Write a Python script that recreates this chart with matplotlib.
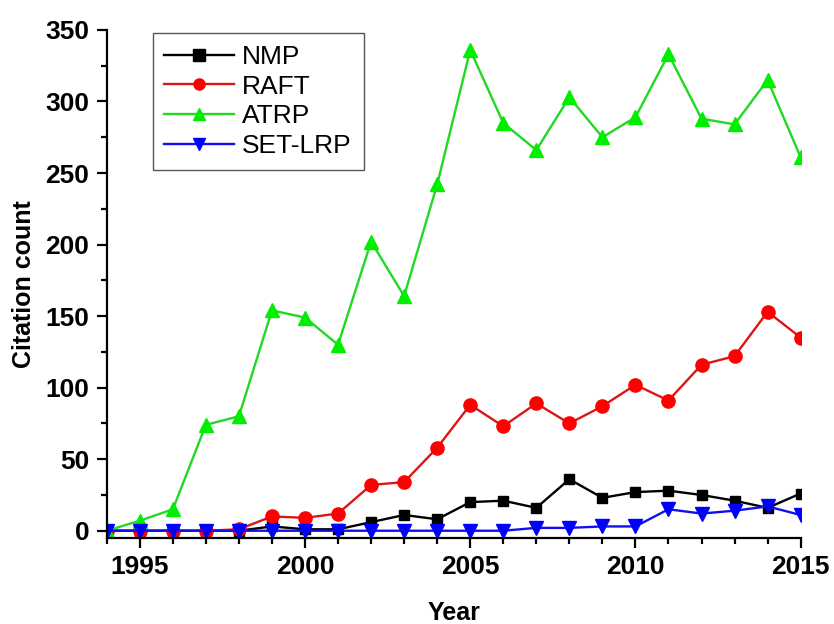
import matplotlib
matplotlib.use('Agg')
import matplotlib.pyplot as plt
from matplotlib.ticker import MultipleLocator

plt.rcParams['font.family'] = ['Liberation Sans', 'DejaVu Sans']

years = list(range(1994, 2016))
nmp = [0, 0, 0, 0, 0, 3, 1, 1, 6, 11, 8, 20, 21, 16, 36, 23, 27, 28, 25, 21, 16, 26]
raft = [0, 0, 0, 0, 1, 10, 9, 12, 32, 34, 58, 88, 73, 89, 75, 87, 102, 91, 116, 122, 153, 135]
atrp = [0, 7, 15, 74, 80, 154, 149, 130, 202, 164, 242, 336, 285, 266, 303, 275, 289, 333, 288, 284, 315, 261]
setlrp = [0, 0, 0, 0, 0, 0, 0, 0, 0, 0, 0, 0, 0, 2, 2, 3, 3, 15, 12, 14, 17, 11]

fig = plt.figure(figsize=(8.34, 6.24), dpi=100)
ax = fig.add_axes([0.128, 0.138, 0.832, 0.814])

ax.plot(years, nmp, '-s', color='black', lw=1.7, ms=7.5, label='NMP')
ax.plot(years, raft, '-o', color='#dd1515', mfc='#ff0000', mec='#ff0000', lw=1.7, ms=9.5, label='RAFT')
ax.plot(years, atrp, '-^', color='#22d822', mfc='#00ee00', mec='#00ee00', lw=1.7, ms=10, label='ATRP')
ax.plot(years, setlrp, '-v', color='#1010ee', mfc='#0000ff', mec='#0000ff', lw=1.7, ms=10, label='SET-LRP')

ax.set_xlim(1994, 2015)
ax.set_ylim(-5, 350)
ax.xaxis.set_major_locator(MultipleLocator(5))
ax.xaxis.set_minor_locator(MultipleLocator(1))
ax.yaxis.set_major_locator(MultipleLocator(50))
ax.yaxis.set_minor_locator(MultipleLocator(25))

for side in ['top', 'right']:
    ax.spines[side].set_visible(False)
for side in ['left', 'bottom']:
    ax.spines[side].set_linewidth(1.6)

ax.tick_params(which='major', direction='out', length=7.5, width=1.6, labelsize=19, pad=5)
ax.tick_params(which='minor', direction='out', length=4.5, width=1.6)
for lbl in ax.get_xticklabels() + ax.get_yticklabels():
    lbl.set_fontweight('bold')

ax.set_xlabel('Year', fontsize=18, fontweight='bold', labelpad=16)
ax.set_ylabel('Citation count', fontsize=18, fontweight='bold', labelpad=7)

leg = ax.legend(loc='upper left', bbox_to_anchor=(0.066, 0.994), borderaxespad=0,
                fontsize=19, numpoints=1, handlelength=2.65, handletextpad=0.3,
                labelspacing=0.22, borderpad=0.45, fancybox=False, framealpha=1)
leg.get_frame().set_edgecolor('#555555')
leg.get_frame().set_linewidth(1.0)
for h in leg.legend_handles:
    h.set_markersize(8)

fig.savefig('out.png', dpi=100)
